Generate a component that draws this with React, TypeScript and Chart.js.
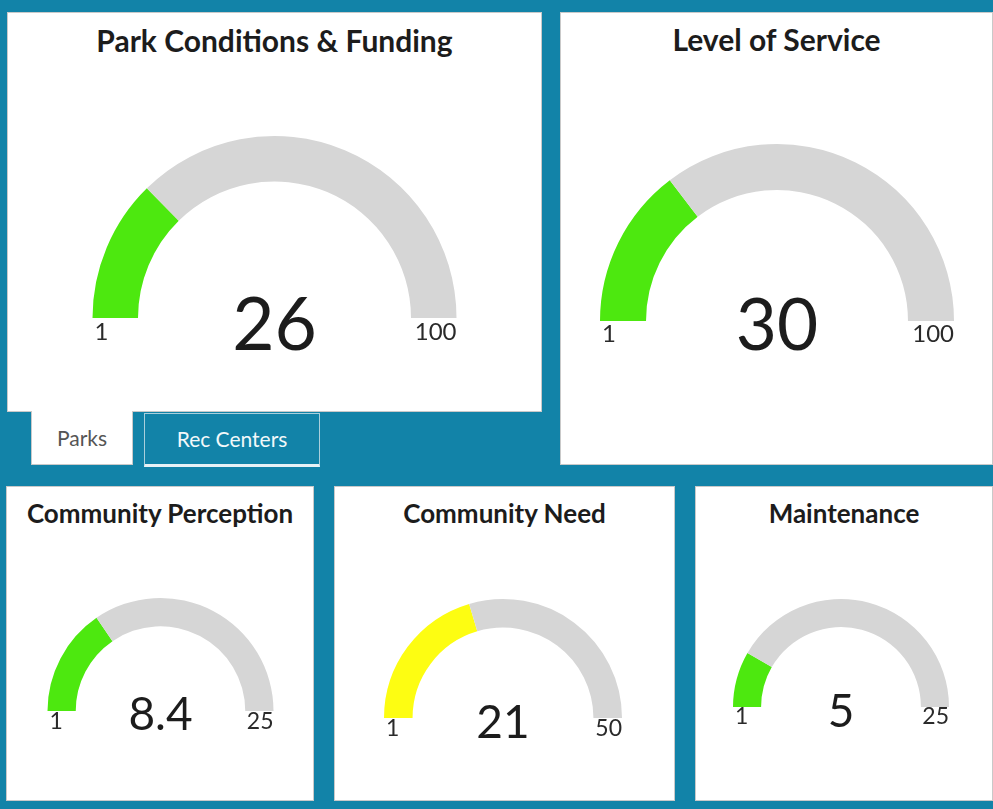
import React, { useEffect, useRef } from "react";
import { Chart, registerables } from "chart.js";

Chart.register(...registerables);

// ---- data ----
const gaugeTitles = [
  "Park Conditions & Funding",
  "Level of Service",
  "Community Perception",
  "Community Need",
  "Maintenance",
];
const gaugeValues = [26, 30, 8.4, 21, 5];
const gaugeMins = [1, 1, 1, 1, 1];
const gaugeMaxs = [100, 100, 25, 50, 25];
const gaugeColors = ["#4de80f", "#4de80f", "#4de80f", "#fdfd12", "#4de80f"];
const tabLabels = ["Parks", "Rec Centers"];

const TEAL = "#1283a8";
const TRACK = "#d6d6d6";
const FONT = "Lato, 'Noto Sans', sans-serif";

// ---- layout (absolute page coordinates) ----
type Lay = {
  x: number; y: number; w: number; h: number;
  cx: number; cy: number; r: number; cutout: string;
  titleSize: number; titleBase: number;
  valueSize: number; valueDy: number;
  labelSize: number; labelDy: number;
};

const layouts: Lay[] = [
  { x: 7, y: 12, w: 535, h: 400, cx: 274.5, cy: 318, r: 182, cutout: "75%", titleSize: 30, titleBase: 52, valueSize: 73, valueDy: 32, labelSize: 24, labelDy: 22 },
  { x: 560, y: 12, w: 433, h: 453, cx: 777, cy: 321, r: 177, cutout: "74%", titleSize: 30, titleBase: 51, valueSize: 71, valueDy: 29, labelSize: 24, labelDy: 21 },
  { x: 6, y: 486, w: 308, h: 315, cx: 160.5, cy: 711, r: 113, cutout: "75%", titleSize: 26, titleBase: 523, valueSize: 46, valueDy: 19, labelSize: 23, labelDy: 18 },
  { x: 334, y: 486, w: 341, h: 315, cx: 503, cy: 718, r: 119, cutout: "76%", titleSize: 26, titleBase: 523, valueSize: 46, valueDy: 20, labelSize: 23, labelDy: 18 },
  { x: 695, y: 486, w: 298, h: 315, cx: 841, cy: 707, r: 108, cutout: "74%", titleSize: 26, titleBase: 523, valueSize: 46, valueDy: 20, labelSize: 23, labelDy: 17 },
];

const gaugeTextPlugin = {
  id: "gaugeText",
  afterDatasetsDraw(chart: any, _args: any, opts: any) {
    const arc = chart.getDatasetMeta(0).data[0];
    if (!arc) return;
    const { x, y, outerRadius } = arc.getProps(["x", "y", "outerRadius"], true);
    const ctx = chart.ctx;
    ctx.save();
    ctx.textBaseline = "alphabetic";
    ctx.fillStyle = "#1c1c1c";
    ctx.font = `400 ${opts.valueSize}px ${FONT}`;
    ctx.textAlign = "center";
    ctx.fillText(opts.value, x, y + opts.valueDy);
    ctx.fillStyle = "#2a2a2a";
    ctx.font = `400 ${opts.labelSize}px ${FONT}`;
    ctx.textAlign = "left";
    ctx.fillText(opts.min, x - outerRadius + 2, y + opts.labelDy);
    ctx.textAlign = "right";
    ctx.fillText(opts.max, x + outerRadius, y + opts.labelDy);
    ctx.restore();
  },
};

function Gauge({ i }: { i: number }) {
  const ref = useRef<HTMLCanvasElement>(null);
  const L = layouts[i];
  useEffect(() => {
    if (!ref.current) return;
    const relCx = L.cx - L.x;
    const relCy = L.cy - L.y;
    const chart = new Chart(ref.current, {
      type: "doughnut",
      data: {
        labels: ["value", "rest"],
        datasets: [
          {
            data: [gaugeValues[i] - gaugeMins[i], gaugeMaxs[i] - gaugeValues[i]],
            backgroundColor: [gaugeColors[i], TRACK],
            borderWidth: 0,
          },
        ],
      },
      options: {
        responsive: false,
        maintainAspectRatio: false,
        animation: false,
        events: [],
        circumference: 180,
        rotation: -90,
        cutout: L.cutout,
        layout: {
          padding: {
            left: relCx - L.r,
            right: L.w - (relCx + L.r),
            top: relCy - L.r,
            bottom: L.h - relCy,
          },
        },
        plugins: {
          legend: { display: false },
          tooltip: { enabled: false },
          title: { display: false },
          gaugeText: {
            value: String(gaugeValues[i]),
            min: String(gaugeMins[i]),
            max: String(gaugeMaxs[i]),
            valueSize: L.valueSize,
            valueDy: L.valueDy,
            labelSize: L.labelSize,
            labelDy: L.labelDy,
          },
        } as any,
      },
      plugins: [gaugeTextPlugin as any],
    });
    return () => chart.destroy();
  }, []);

  return (
    <div
      style={{
        position: "absolute",
        left: L.x,
        top: L.y,
        width: L.w,
        height: L.h,
        background: "#fff",
        boxShadow: "inset 0 0 0 1px #c9c9c9",
      }}
    >
      <div
        style={{
          position: "absolute",
          left: 0,
          width: L.w,
          top: L.titleBase - L.y - Math.round(L.titleSize * 0.887),
          textAlign: "center",
          fontFamily: FONT,
          fontWeight: 700,
          fontSize: L.titleSize,
          lineHeight: 1,
          color: "#1c1c1c",
          whiteSpace: "nowrap",
        }}
      >
        {gaugeTitles[i]}
      </div>
      <canvas
        ref={ref}
        width={L.w}
        height={L.h}
        style={{ position: "absolute", left: 0, top: 0, width: L.w, height: L.h }}
      />
    </div>
  );
}

export default function App() {
  return (
    <div
      style={{
        position: "fixed",
        left: 0,
        top: 0,
        width: 993,
        height: 809,
        background: TEAL,
        overflow: "hidden",
      }}
    >
      {layouts.map((_, i) => (
        <Gauge key={i} i={i} />
      ))}
      {/* tabs */}
      <div
        style={{
          position: "absolute",
          left: 31,
          top: 411,
          width: 102,
          height: 54,
          background: "#fff",
          boxShadow: "inset 1px 0 0 #c9c9c9, inset -1px 0 0 #c9c9c9, inset 0 -1px 0 #c9c9c9",
          fontFamily: FONT,
          fontSize: 21,
          color: "#555",
          display: "flex",
          alignItems: "center",
          justifyContent: "center",
          boxSizing: "border-box",
          paddingBottom: 1,
        }}
      >
        {tabLabels[0]}
      </div>
      <div
        style={{
          position: "absolute",
          left: 144,
          top: 413,
          width: 176,
          height: 54,
          background: TEAL,
          border: "1px solid #a9cfdc",
          borderBottom: "3px solid #e8f2f6",
          boxSizing: "border-box",
          fontFamily: FONT,
          fontSize: 21,
          color: "#f2f8fa",
          display: "flex",
          alignItems: "center",
          justifyContent: "center",
          paddingBottom: 1,
        }}
      >
        {tabLabels[1]}
      </div>
    </div>
  );
}
